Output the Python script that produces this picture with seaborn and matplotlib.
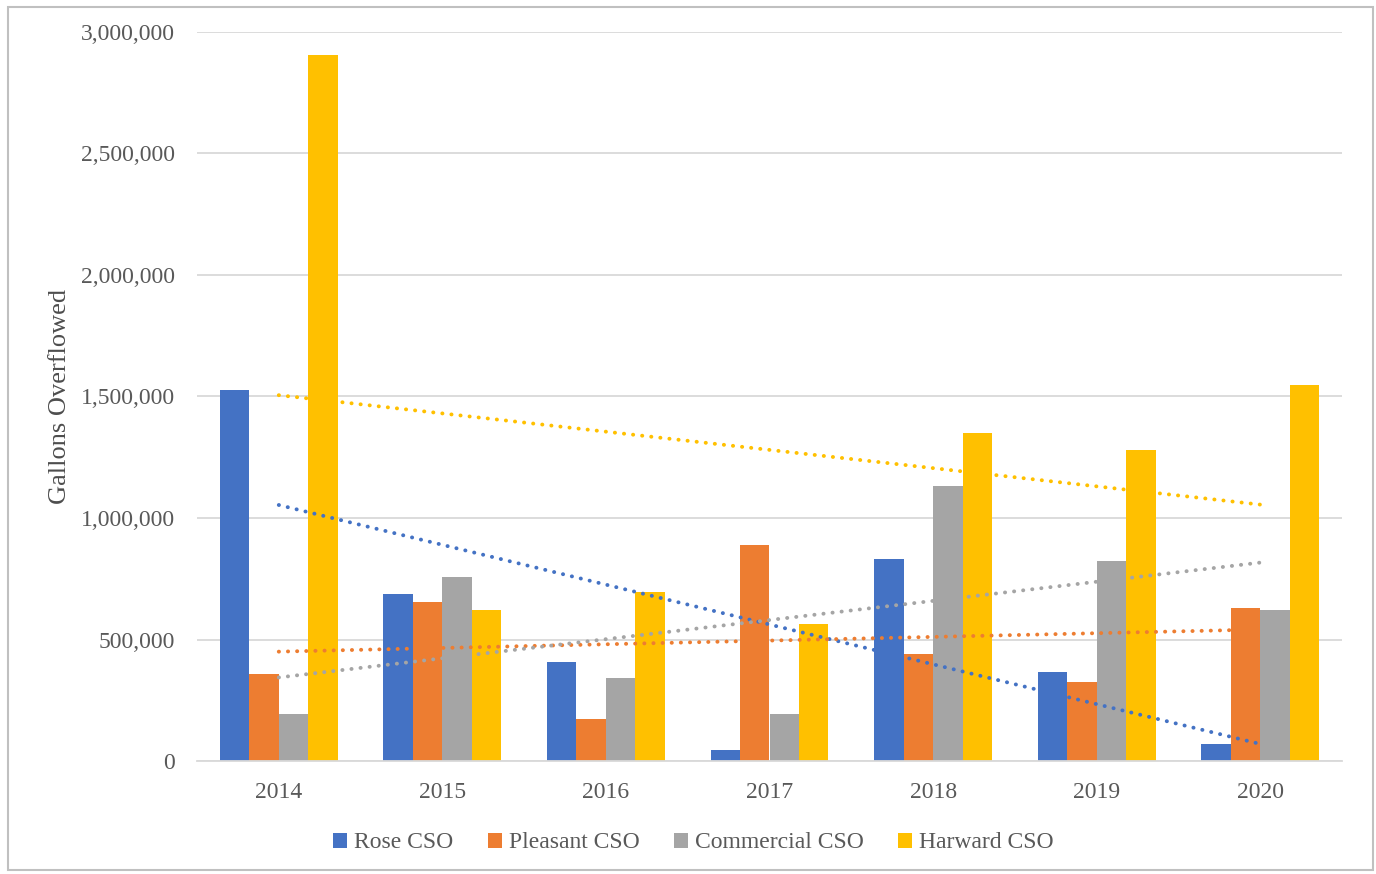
import numpy as np
import pandas as pd
import matplotlib
matplotlib.use("Agg")
import matplotlib.pyplot as plt
from matplotlib.patches import Rectangle, Patch
from matplotlib.ticker import FuncFormatter, MultipleLocator
import seaborn as sns

# Annual overflow volumes (gallons) per combined sewer outfall
years = ["2014", "2015", "2016", "2017", "2018", "2019", "2020"]
rose = [1527000, 687000, 407000, 45000, 831000, 366000, 70000]
pleasant = [358000, 654000, 173000, 889000, 440000, 325000, 630000]
commercial = [193000, 757000, 342000, 193000, 1132000, 823000, 621000]
harward = [2905000, 621000, 695000, 564000, 1350000, 1280000, 1547000]

sites = ["Rose CSO", "Pleasant CSO", "Commercial CSO", "Harward CSO"]
colors = ["#4472C4", "#ED7D31", "#A5A5A5", "#FFC000"]
series = [rose, pleasant, commercial, harward]

df = pd.DataFrame({
    "Year": np.repeat([years], len(sites), axis=0).ravel(),
    "Site": np.repeat(sites, len(years)),
    "Gallons": np.concatenate(series),
})

sns.set_theme(style="white")
plt.rcParams["font.family"] = ["Liberation Serif", "DejaVu Serif"]

fig = plt.figure(figsize=(13.76, 8.74), dpi=100)
ax = fig.add_axes([197 / 1376, 1 - 761 / 874, 1145 / 1376, 729 / 874])

sns.barplot(data=df, x="Year", y="Gallons", hue="Site", order=years,
            hue_order=sites, palette=colors, width=0.72, saturation=1,
            errorbar=None, legend=False, linewidth=0, ax=ax, zorder=2)

# Linear trend line for each site
xpos = np.arange(len(years))
for vals, c in zip(series, colors):
    slope, intercept = np.polyfit(xpos, vals, 1)
    ends = np.array([xpos[0], xpos[-1]])
    ax.plot(ends, slope * ends + intercept, color=c, lw=2.8,
            linestyle=(0, (0.05, 2.3)), dash_capstyle="round", zorder=3)

ax.set_xlim(-0.5, len(years) - 0.5)
ax.set_ylim(0, 3000000)
ax.yaxis.set_major_locator(MultipleLocator(500000))
ax.yaxis.set_major_formatter(FuncFormatter(lambda v, p: f"{int(v):,}"))
ax.grid(axis="y", color="#d9d9d9", lw=1.3, zorder=0)
ax.set_axisbelow(True)

for s in ["left", "right", "top"]:
    ax.spines[s].set_visible(False)
ax.spines["bottom"].set_color("#d9d9d9")
ax.spines["bottom"].set_linewidth(1.3)

ax.tick_params(axis="y", length=0, pad=16, labelsize=17, labelcolor="#595959")
ax.tick_params(axis="x", length=0, pad=15, labelsize=17, labelcolor="#595959")
ax.set_xlabel("")
ax.set_ylabel("Gallons Overflowed", fontsize=19, color="#4d4d4d")
ax.yaxis.set_label_coords(-0.110, 0.5)

handles = [Patch(facecolor=c, edgecolor="none") for c in colors]
fig.legend(handles, sites, loc="center", bbox_to_anchor=(0.504, 1 - 843 / 874),
           ncol=4, frameon=False, fontsize=17, labelcolor="#595959",
           handlelength=0.6, handleheight=0.6, handletextpad=0.3,
           columnspacing=1.45)

fig.patches.append(Rectangle((8 / 1376, 1 - 870 / 874), 1365 / 1376, 863 / 874,
                             transform=fig.transFigure, fill=False,
                             edgecolor="#c0c0c0", lw=1.5))

fig.savefig("out.png", dpi=100, facecolor="white")
